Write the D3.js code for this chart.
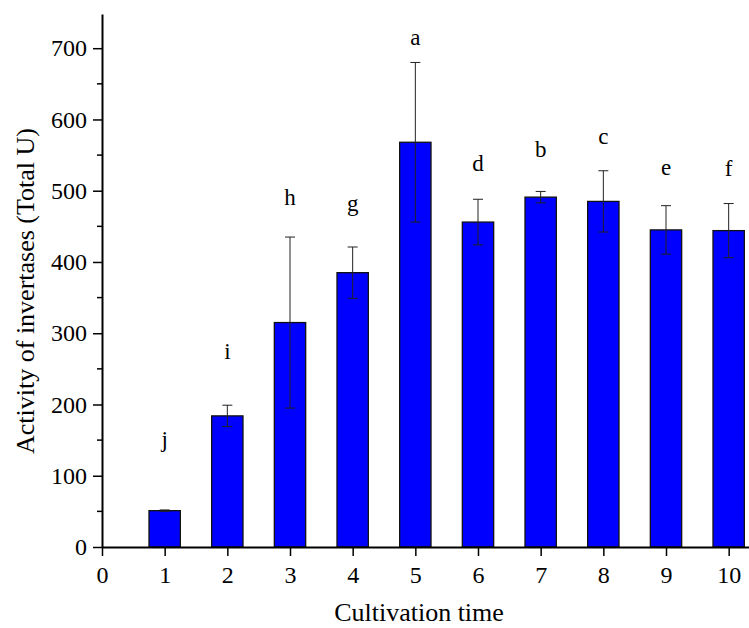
<!DOCTYPE html>
<html>
<head>
<meta charset="utf-8">
<script src="https://cdn.jsdelivr.net/npm/d3@7"></script>
<style>
  body { margin: 0; background: #fff; }
  text { font-family: "Liberation Serif", "Times New Roman", serif; fill: #000; }
</style>
</head>
<body>
<script>
// cultivation time vs invertase activity
var times = [1, 2, 3, 4, 5, 6, 7, 8, 9, 10];
var activity = [51, 184, 315, 385, 568, 456, 491, 485, 445, 444];
var errs = [1, 15, 120, 36, 112, 32, 8, 43, 34, 38];
var letters = ["j", "i", "h", "g", "a", "d", "b", "c", "e", "f"];
var letterPos = [140, 264, 480, 472, 705, 527, 548, 566, 522, 520];
var yTicks = [0, 100, 200, 300, 400, 500, 600, 700];
var xTicks = [0, 1, 2, 3, 4, 5, 6, 7, 8, 9, 10];

var window_w = 749, window_h = 628;
var margin = {left: 102, top: 14, right: 0, bottom: 81};
var frame_w = window_w - margin.left - margin.right;
var frame_h = window_h - margin.top - margin.bottom;

var xScale = d3.scaleLinear().domain([0, 10.5]).range([0, 658]);
var yScale = d3.scaleLinear().domain([0, 748]).range([frame_h, 0]);

var svg = d3.select("body").append("svg")
    .attr("width", window_w)
    .attr("height", window_h);
var g = svg.append("g").attr("transform", "translate(" + margin.left + "," + margin.top + ")");

var barW = xScale(0.5) - xScale(0);

// bars
g.selectAll("rect.bar").data(times)
  .enter().append("rect")
    .attr("class", "bar")
    .attr("x", function(d) { return xScale(d) - barW / 2; })
    .attr("y", function(d, i) { return yScale(activity[i]); })
    .attr("width", barW)
    .attr("height", function(d, i) { return yScale(0) - yScale(activity[i]); })
    .attr("fill", "#0000ff")
    .attr("stroke", "#111")
    .attr("stroke-width", 1.3);

// error bars
var eb = g.selectAll("g.err").data(times).enter().append("g").attr("class", "err")
    .attr("stroke", "#222").attr("stroke-width", 1);
eb.append("line")
    .attr("x1", function(d) { return xScale(d); })
    .attr("x2", function(d) { return xScale(d); })
    .attr("y1", function(d, i) { return yScale(activity[i] + errs[i]); })
    .attr("y2", function(d, i) { return yScale(activity[i] - errs[i]); });
[1, -1].forEach(function(s) {
  eb.append("line")
    .attr("x1", function(d) { return xScale(d) - 5; })
    .attr("x2", function(d) { return xScale(d) + 5; })
    .attr("y1", function(d, i) { return yScale(activity[i] + s * errs[i]); })
    .attr("y2", function(d, i) { return yScale(activity[i] + s * errs[i]); });
});

// significance letters
g.selectAll("text.letter").data(times)
  .enter().append("text")
    .attr("class", "letter")
    .attr("x", function(d) { return xScale(d); })
    .attr("y", function(d, i) { return yScale(letterPos[i]); })
    .attr("text-anchor", "middle")
    .style("font-size", "23px")
    .text(function(d, i) { return letters[i]; });

// minor ticks
var yMinor = d3.range(50, 750, 100);
g.selectAll("line.yminor").data(yMinor).enter().append("line")
    .attr("x1", -5).attr("x2", 0)
    .attr("y1", function(d) { return yScale(d); })
    .attr("y2", function(d) { return yScale(d); })
    .attr("stroke", "#000").attr("stroke-width", 1.5);

var yAxis = d3.axisLeft(yScale).tickValues(yTicks).tickSizeInner(9).tickSizeOuter(0).tickPadding(6);
var xAxis = d3.axisBottom(xScale).tickValues(xTicks).tickSizeInner(9).tickSizeOuter(0).tickPadding(10);

var yAxisG = g.append("g").attr("class", "y axis").call(yAxis);
var xAxisG = g.append("g").attr("class", "x axis")
    .attr("transform", "translate(0," + frame_h + ")")
    .call(xAxis);

[yAxisG, xAxisG].forEach(function(a) {
  a.select(".domain").attr("stroke", "#000").attr("stroke-width", 2);
  a.selectAll(".tick line").attr("stroke", "#000").attr("stroke-width", 1.5);
  a.selectAll(".tick text")
    .style("font-family", "Liberation Serif, serif")
    .style("font-size", "24px")
    .attr("fill", "#000");
});

// axis titles
g.append("text")
    .attr("transform", "rotate(-90)")
    .attr("x", 0 - 277)
    .attr("y", 0 - margin.left + 34)
    .style("text-anchor", "middle")
    .style("font-size", "26px")
    .text("Activity of invertases (Total U)");

g.append("text")
    .attr("x", 317)
    .attr("y", frame_h + 74)
    .style("text-anchor", "middle")
    .style("font-size", "26px")
    .text("Cultivation time");
</script>
</body>
</html>
